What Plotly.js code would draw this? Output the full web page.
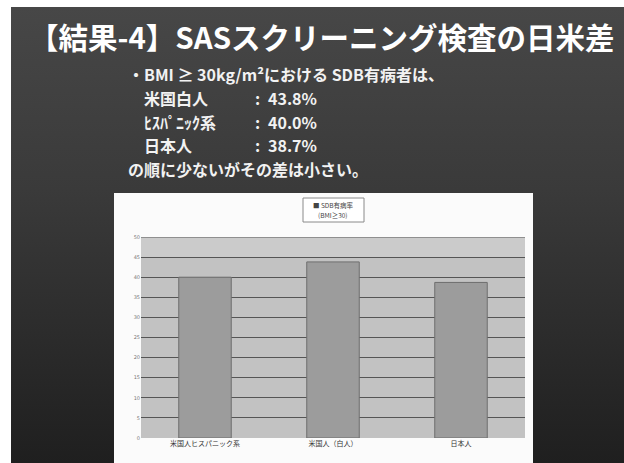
<!DOCTYPE html>
<html>
<head>
<meta charset="utf-8">
<script src="https://cdn.plot.ly/plotly-3.0.1.min.js"></script>
<style>
html,body{margin:0;padding:0;background:#ffffff;}
#slide{position:absolute;left:11px;top:7px;width:613px;height:456px;background:linear-gradient(#474747,#3a3a3a 40%,#1f1f1f);}
#chart{position:absolute;left:0;top:0;width:624px;height:463px;}
</style>
</head>
<body>
<div id="slide"></div>
<div id="chart"></div>
<script>
const categories = ["米国人ヒスパニック系", "米国人（白人）", "日本人"];
const prevalence = [40.0, 43.8, 38.7];
const seriesName = "SDB有病率";
const seriesNote = "(BMI≥30)";
const yTicks = [0, 5, 10, 15, 20, 25, 30, 35, 40, 45, 50];

const slideTitle = "【結果-4】SASスクリーニング検査の日米差";
const bulletLines = [
  "・BMI ≥ 30kg/m²における SDB有病者は、",
  "米国白人",
  "ﾋｽﾊﾟﾆｯｸ系",
  "日本人",
  "の順に少ないがその差は小さい。"
];
const bulletValues = ["43.8%", "40.0%", "38.7%"];

const W = 624, H = 463;
const mL = 141, mR = 99, mT = 237, mB = 25;
const pw = W - mL - mR, ph = H - mT - mB;
function px(x){ return (x - mL) / pw; }
function py(y){ return (H - mB - y) / ph; }

const txtFont = {family: "Noto Sans CJK JP, sans-serif", size: 16, color: "#f2f2f2"};
const legFont = {family: "Noto Sans CJK JP, sans-serif", size: 6.5, color: "#444"};
const annotations = [
  {text: "<b>" + slideTitle + "</b>", x: px(322), y: py(36), xref: "paper", yref: "paper",
   showarrow: false, xanchor: "center", yanchor: "middle",
   font: {family: "Noto Sans CJK JP, sans-serif", size: 29.5, color: "#ffffff"}},
  {text: "<b>" + bulletLines[0] + "</b>", x: px(126), y: py(74), xref: "paper", yref: "paper",
   showarrow: false, xanchor: "left", yanchor: "middle", font: txtFont},
  {text: "<b>" + bulletLines[4] + "</b>", x: px(126), y: py(169), xref: "paper", yref: "paper",
   showarrow: false, xanchor: "left", yanchor: "middle", font: txtFont},
  {text: "■ " + seriesName, x: px(333), y: py(205), xref: "paper", yref: "paper",
   showarrow: false, xanchor: "center", yanchor: "middle", font: legFont},
  {text: seriesNote, x: px(333), y: py(215), xref: "paper", yref: "paper",
   showarrow: false, xanchor: "center", yanchor: "middle", font: legFont}
];
const rowsY = [98, 122, 145];
for (let i = 0; i < 3; i++) {
  annotations.push({text: "<b>" + bulletLines[i+1] + "</b>", x: px(142), y: py(rowsY[i]), xref: "paper", yref: "paper",
    showarrow: false, xanchor: "left", yanchor: "middle", font: txtFont});
  annotations.push({text: "<b>:</b>", x: px(257), y: py(rowsY[i]), xref: "paper", yref: "paper",
    showarrow: false, xanchor: "center", yanchor: "middle", font: txtFont});
  annotations.push({text: "<b>" + bulletValues[i] + "</b>", x: px(266), y: py(rowsY[i]), xref: "paper", yref: "paper",
    showarrow: false, xanchor: "left", yanchor: "middle", font: txtFont});
}

const shapes = [
  {type: "rect", xref: "paper", yref: "paper", x0: px(114), x1: px(533), y0: py(470), y1: py(193),
   fillcolor: "#fbfbfb", line: {width: 0}, layer: "below"},
  {type: "rect", xref: "paper", yref: "paper", x0: px(303), x1: px(364), y0: py(222), y1: py(198),
   fillcolor: "#ffffff", line: {color: "#8a8a8a", width: 1}, layer: "below"},
  {type: "rect", xref: "paper", yref: "paper", x0: 0, x1: 1, y0: 0, y1: 1,
   fillcolor: "#c2c2c2", line: {width: 0}, layer: "below"},
  {type: "rect", xref: "paper", yref: "y", x0: 0, x1: 1, y0: 45, y1: 50,
   fillcolor: "#cbcbcb", line: {width: 0}, layer: "below"},
  {type: "line", xref: "paper", yref: "y", x0: 0, x1: 1, y0: 50, y1: 50,
   line: {color: "#555555", width: 1}, layer: "below"}
];

const trace = {
  type: "bar", x: categories, y: prevalence, name: seriesName,
  marker: {color: "#9c9c9c", line: {color: "#6e6e6e", width: 1}},
  width: 0.41, showlegend: false
};

const layout = {
  width: W, height: H,
  margin: {l: mL, r: mR, t: mT, b: mB, pad: 0},
  paper_bgcolor: "rgba(0,0,0,0)",
  plot_bgcolor: "rgba(0,0,0,0)",
  showlegend: false,
  xaxis: {type: "category", showgrid: false, zeroline: false, showline: false,
    tickfont: {family: "Noto Sans CJK JP, sans-serif", size: 7, color: "#333"}, ticks: ""},
  yaxis: {range: [0, 50], tickvals: yTicks, ticktext: yTicks.map(String),
    showgrid: true, gridcolor: "#555555", gridwidth: 1, zeroline: false, showline: false,
    tickfont: {family: "DejaVu Sans, sans-serif", size: 5, color: "#777"}, ticks: "", ticklen: 0},
  annotations: annotations,
  shapes: shapes
};

Plotly.newPlot("chart", [trace], layout, {staticPlot: true, displayModeBar: false});
</script>
</body>
</html>
